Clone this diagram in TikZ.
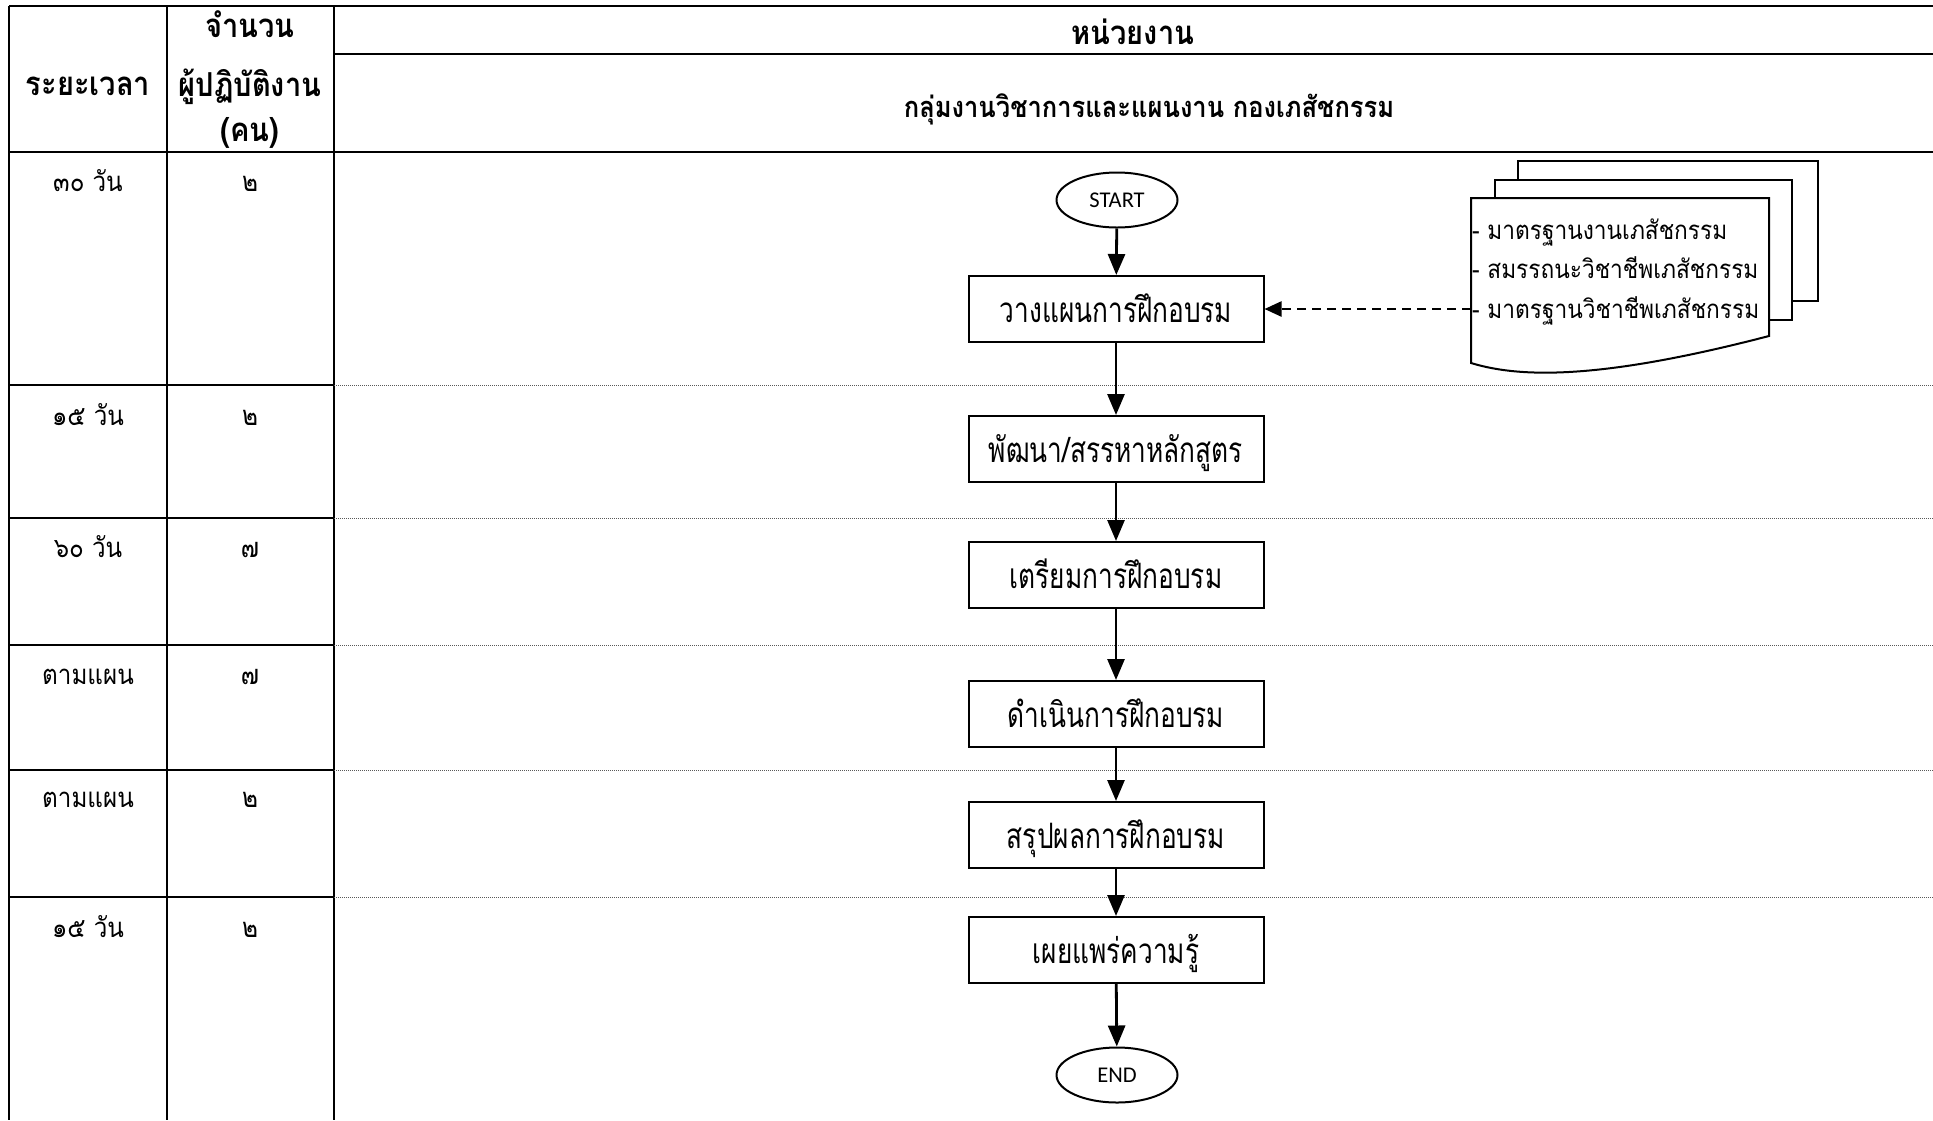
\documentclass[tikz,border=0pt]{standalone}
\usepackage{fontspec}
\setmainfont[Script=Thai]{Loma}
\newfontfamily\boxfont[Script=Thai,FakeStretch=0.75]{Loma}
\newfontfamily\narrowfont[Script=Thai,FakeStretch=0.88]{Loma}
\newfontfamily\capsfont{Carlito}
\usetikzlibrary{arrows.meta,shapes.geometric}
\begin{document}
\begin{tikzpicture}[x=1pt,y=-1pt,
  rule/.style={line width=2.7pt},
  lane/.style={line width=1pt, black!65, dash pattern=on 1pt off 1pt},
  txt/.style={inner sep=0pt, anchor=base, font=\narrowfont\fontsize{27.5}{30}\selectfont},
  hdr/.style={inner sep=0pt, anchor=base, font=\narrowfont\fontsize{33}{36}\selectfont\bfseries},
  stepbox/.style={draw, line width=2pt, minimum width=295pt, minimum height=66pt,
    inner sep=0pt, text height=30pt, text depth=4pt, font=\boxfont\fontsize{35}{38}\selectfont},
  terminal/.style={draw, ellipse, line width=2pt, minimum width=121pt, minimum height=55pt,
    inner sep=0pt, text height=14pt, text depth=0pt, font=\capsfont\fontsize{22.5}{24}\selectfont},
  flow/.style={line width=2.8pt, -{Triangle[length=21pt,width=17pt]}},
  dashflow/.style={line width=2.4pt, dash pattern=on 9pt off 6pt, -{Triangle[length=17pt,width=15pt]}},
  paper/.style={draw, line width=2pt, fill=white},
  doctext/.style={inner sep=0pt, anchor=base west, font=\narrowfont\fontsize{25.8}{28}\selectfont}
]
\useasboundingbox (0,0) rectangle (1933,1120);

% table frame
\draw[rule] (9,6) -- (1933,6);
\draw[rule] (334,54) -- (1933,54);
\draw[rule] (9,152) -- (1933,152);
\draw[rule] (9,6) -- (9,1120);
\draw[rule] (167,6) -- (167,1120);
\draw[rule] (334,6) -- (334,1120);
\foreach \y in {385,518,645,770,897}{
  \draw[rule] (9,\y) -- (334,\y);
  \draw[lane] (334,\y) -- (1933,\y);
}

% header
\node[hdr] (hTime) at (88,95) {ระยะเวลา};
\node[hdr] (hN1) at (250,37) {จำนวน};
\node[hdr] (hN2) at (250,96) {ผู้ปฏิบัติงาน};
\node[hdr] (hN3) at (250,141) {(คน)};
\node[hdr] (hUnit) at (1133,44) {หน่วยงาน};
\node[hdr, font=\narrowfont\fontsize{29}{32}\selectfont\bfseries] (hDept) at (1149,117) {กลุ่มงานวิชาการและแผนงาน กองเภสัชกรรม};

% time and staff columns
\node[txt] (t1) at (88,191) {๓๐ วัน};   \node[txt] (n1) at (250,191) {๒};
\node[txt] (t2) at (88,425) {๑๕ วัน};   \node[txt] (n2) at (250,425) {๒};
\node[txt] (t3) at (88,557) {๖๐ วัน};   \node[txt] (n3) at (250,557) {๗};
\node[txt] (t4) at (88,684) {ตามแผน};  \node[txt] (n4) at (250,684) {๗};
\node[txt] (t5) at (88,807) {ตามแผน};  \node[txt] (n5) at (250,807) {๒};
\node[txt] (t6) at (88,937) {๑๕ วัน};   \node[txt] (n6) at (250,937) {๒};

% process
\node[terminal] (start) at (1117,200) {START};
\node[stepbox] (b1) at (1116,309) {วางแผนการฝึกอบรม};
\node[stepbox] (b2) at (1116,449) {พัฒนา/สรรหาหลักสูตร};
\node[stepbox] (b3) at (1116,575) {เตรียมการฝึกอบรม};
\node[stepbox] (b4) at (1116,714) {ดำเนินการฝึกอบรม};
\node[stepbox] (b5) at (1116,835) {สรุปผลการฝึกอบรม};
\node[stepbox] (b6) at (1116,950) {เผยแพร่ความรู้};
\node[terminal] (end) at (1117,1075) {END};

\draw[flow] (start) -- (b1);
\draw[flow] (b1) -- (b2);
\draw[flow] (b2) -- (b3);
\draw[flow] (b3) -- (b4);
\draw[flow] (b4) -- (b5);
\draw[flow] (b5) -- (b6);
\draw[flow] (b6) -- (end);

% reference documents
\draw[paper] (1518,161) rectangle (1818,301);
\draw[paper] (1495,180) rectangle (1792,320);
\draw[paper] (1471,198) -- (1769,198) -- (1769,336)
  .. controls (1600,380) and (1520,378) .. (1471,363) -- cycle;
\node[doctext] (d1) at (1472,239) {- มาตรฐานงานเภสัชกรรม};
\node[doctext] (d2) at (1472,278) {- สมรรถนะวิชาชีพเภสัชกรรม};
\node[doctext] (d3) at (1472,318) {- มาตรฐานวิชาชีพเภสัชกรรม};
\coordinate (docin) at (1471,309);
\draw[dashflow] (docin) -- (b1.east);
\end{tikzpicture}
\end{document}
